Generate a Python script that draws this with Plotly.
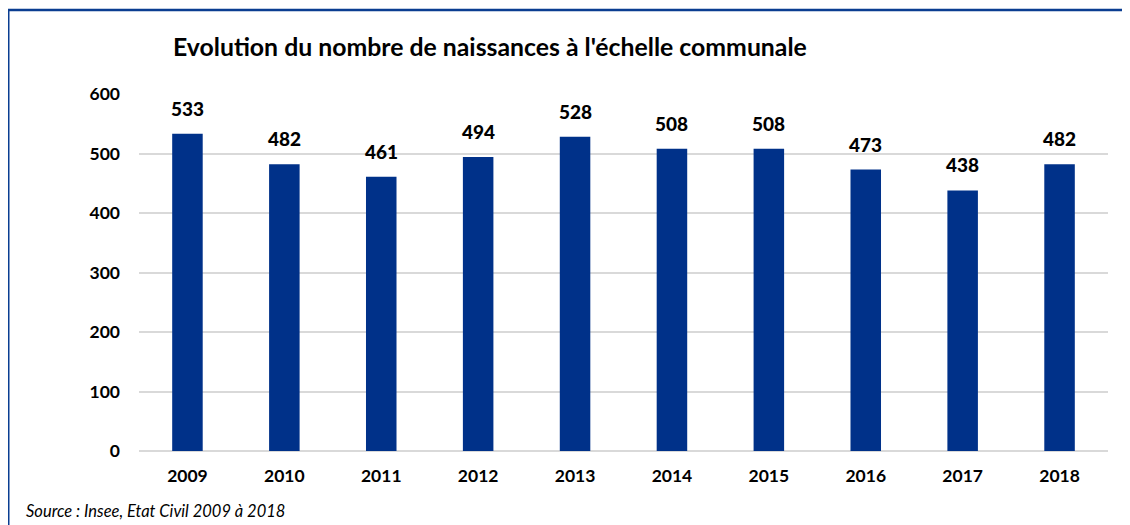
import plotly.graph_objects as go

years = ["2009", "2010", "2011", "2012", "2013", "2014", "2015", "2016", "2017", "2018"]
births = [533, 482, 461, 494, 528, 508, 508, 473, 438, 482]
y_ticks = [0, 100, 200, 300, 400, 500, 600]

FONT = "Lato"
BAR = "#003189"

# The page body has an 8px margin, so figure coordinates = screen - 8
W, H = 1122, 517
L, R, T, B = 131, 22, 86, 74
pw, ph = W - L - R, H - T - B

def px(x):
    return (x - L) / pw

def py(y):
    return (H - B - y) / ph

fig = go.Figure()
fig.add_trace(go.Bar(x=years, y=births, marker=dict(color=BAR, line=dict(width=0)),
                     hoverinfo="skip"))

for i, v in enumerate(births):
    fig.add_annotation(x=i, y=v, xref="x", yref="y", text=str(v), showarrow=False,
                       yanchor="bottom", yshift=12,
                       font=dict(family=FONT, size=19, color="#000000", weight=900))

fig.add_shape(type="line", xref="paper", yref="paper",
              x0=px(0), x1=px(W + 5), y0=py(2), y1=py(2),
              line=dict(color="#0a3d91", width=2.5), layer="above")
fig.add_shape(type="line", xref="paper", yref="paper",
              x0=px(0.5), x1=px(0.5), y0=py(2), y1=py(H + 5),
              line=dict(color="#0a3d91", width=2), layer="above")

fig.add_annotation(xref="paper", yref="paper", x=px(163), y=py(38),
                   xanchor="left", yanchor="middle", showarrow=False,
                   text="Evolution du nombre de naissances à l'échelle communale",
                   font=dict(family=FONT, size=24.8, color="#000000", weight="bold"))
fig.add_annotation(xref="paper", yref="paper", x=px(16), y=py(503),
                   xanchor="left", yanchor="middle", showarrow=False,
                   text="Source : Insee, Etat Civil 2009 à 2018",
                   font=dict(family=FONT, size=16.5, color="#000000", style="italic"))

fig.update_layout(
    width=W, height=H,
    margin=dict(l=L, r=R, t=T, b=B, pad=0),
    paper_bgcolor="white", plot_bgcolor="white",
    bargap=0.685,
    showlegend=False,
    xaxis=dict(type="category", showgrid=False, showline=False, zeroline=False,
               ticks="", ticklabelstandoff=12,
               tickfont=dict(family=FONT, size=17.5, color="#000000", weight="bold")),
    yaxis=dict(range=[0, 600], tickvals=y_ticks, showgrid=True,
               gridcolor="#d9d9d9", gridwidth=1.5, zeroline=True,
               zerolinecolor="#d9d9d9", zerolinewidth=1.5, showline=False,
               ticks="", ticklabelstandoff=18,
               tickfont=dict(family=FONT, size=17.5, color="#000000", weight="bold")),
)

fig.write_html("out.html")
